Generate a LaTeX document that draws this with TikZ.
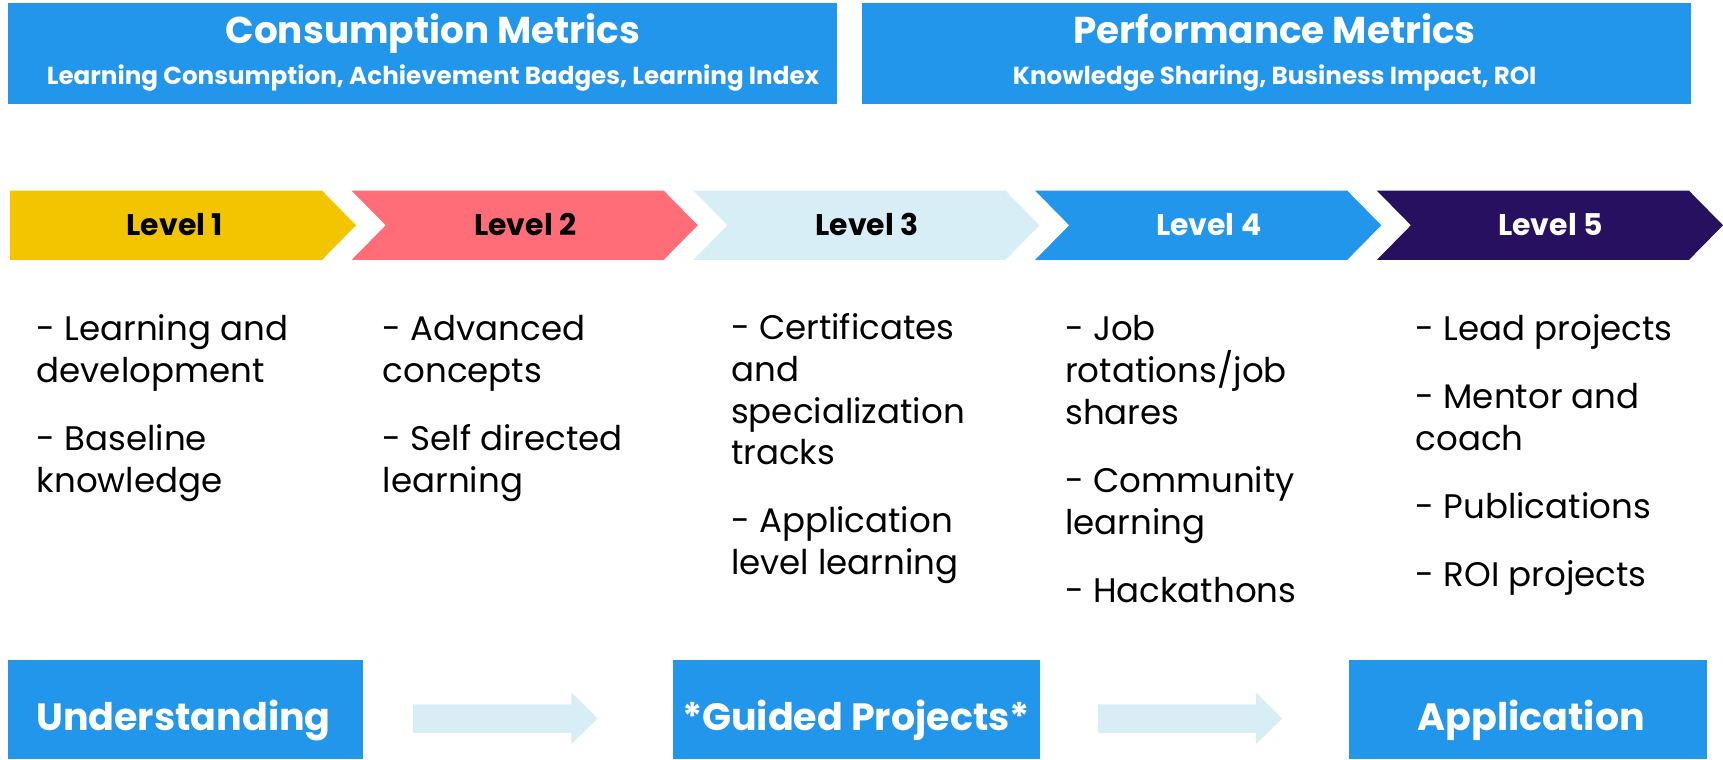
\documentclass[tikz,border=0pt]{standalone}
\usepackage{fontspec}
\setmainfont{Poppins}
\usepackage{xcolor}

\definecolor{metricblue}{RGB}{33,150,235}
\definecolor{lvyellow}{RGB}{242,197,0}
\definecolor{lvpink}{RGB}{255,109,120}
\definecolor{lvpale}{RGB}{216,238,247}
\definecolor{lvpurple}{RGB}{40,16,96}

\begin{document}
\begin{tikzpicture}[x=0.5pt, y=-0.5pt,
    bluebox/.style={rectangle, fill=metricblue, inner sep=0pt},
    headtext/.style={anchor=base, text=white, font=\fontsize{17}{20}\selectfont\bfseries},
    subtext/.style={anchor=base, text=white, font=\fontsize{11.2}{13}\selectfont\bfseries},
    leveltext/.style={anchor=base, font=\fontsize{13.6}{15}\selectfont\bfseries},
    itemtext/.style={anchor=base west, align=left, inner sep=0pt, font=\fontsize{15.5}{19}\selectfont},
    stagetext/.style={anchor=base, text=white, font=\fontsize{17.3}{20}\selectfont\bfseries}]
            \useasboundingbox (0,0) rectangle (1568,691);

            % Metrics boxes
            \node[bluebox, minimum width=377.5pt, minimum height=46pt] (cons) at (384.5,49) {};
            \node[bluebox, minimum width=377.5pt, minimum height=46pt] (perf) at (1161.5,49) {};
            \node[headtext] (consT) at (394,40) {Consumption Metrics};
            \node[subtext] (consS) at (394,77) {Learning Consumption, Achievement Badges, Learning Index};
            \node[headtext] (perfT) at (1160,40) {Performance Metrics};
            \node[subtext] (perfS) at (1160,77) {Knowledge Sharing, Business Impact, ROI};

            % Level chevrons
            \fill[lvyellow] (9,173.5) -- (293,173.5) -- (324,205) -- (293,236.5) -- (9,236.5) -- cycle;
            \fill[lvpink] (320,173.5) -- (604,173.5) -- (635,205) -- (604,236.5) -- (320,236.5) -- (351,205) -- cycle;
            \fill[lvpale] (631,173.5) -- (915,173.5) -- (946,205) -- (915,236.5) -- (631,236.5) -- (662,205) -- cycle;
            \fill[metricblue] (942,173.5) -- (1226,173.5) -- (1257,205) -- (1226,236.5) -- (942,236.5) -- (973,205) -- cycle;
            \fill[lvpurple] (1253,173.5) -- (1537,173.5) -- (1568,205) -- (1537,236.5) -- (1253,236.5) -- (1284,205) -- cycle;
            \node[leveltext] (lv1) at (159,214) {Level 1};
            \node[leveltext] (lv2) at (478,214) {Level 2};
            \node[leveltext] (lv3) at (789,214) {Level 3};
            \node[leveltext, text=white] (lv4) at (1100,214) {Level 4};
            \node[leveltext, text=white] (lv5) at (1411,214) {Level 5};

            % Items (placed by the baseline of their last line)
            \node[itemtext] (col1) at (33,448) {- Learning and\\ development\\[12pt] - Baseline\\ knowledge};
            \node[itemtext] (col2) at (348,448) {- Advanced\\ concepts\\[12pt] - Self directed\\ learning};
            \node[itemtext] (col3) at (665,523) {- Certificates\\ and\\ specialization\\ tracks\\[12pt] - Application\\ level learning};
            \node[itemtext] (col4) at (969,548) {- Job\\ rotations/job\\ shares\\[12pt] - Community\\ learning\\[12pt] - Hackathons};
            \node[itemtext] (col5) at (1288,534) {- Lead projects\\[12pt] - Mentor and\\ coach\\[12pt] - Publications\\[12pt] - ROI projects};

            % Stages
            \node[bluebox, minimum width=161.5pt, minimum height=45pt] (und) at (168.5,646) {};
            \node[bluebox, minimum width=167pt, minimum height=45pt] (gui) at (779,646) {};
            \node[bluebox, minimum width=162.5pt, minimum height=45pt] (app) at (1390.5,646) {};
            \node[stagetext] (undT) at (167,665) {Understanding};
            \node[stagetext] (guiT) at (779,665) {*Guided Projects*};
            \node[stagetext] (appT) at (1393.5,665) {Application};

            % Arrows
            \fill[lvpale] (376,641) -- (520,641) -- (520,630) -- (544,654) -- (520,677) -- (520,667) -- (376,667) -- cycle;
            \fill[lvpale] (999,641) -- (1143,641) -- (1143,630) -- (1167,654) -- (1143,677) -- (1143,667) -- (999,667) -- cycle;
        \end{tikzpicture}
\end{document}
